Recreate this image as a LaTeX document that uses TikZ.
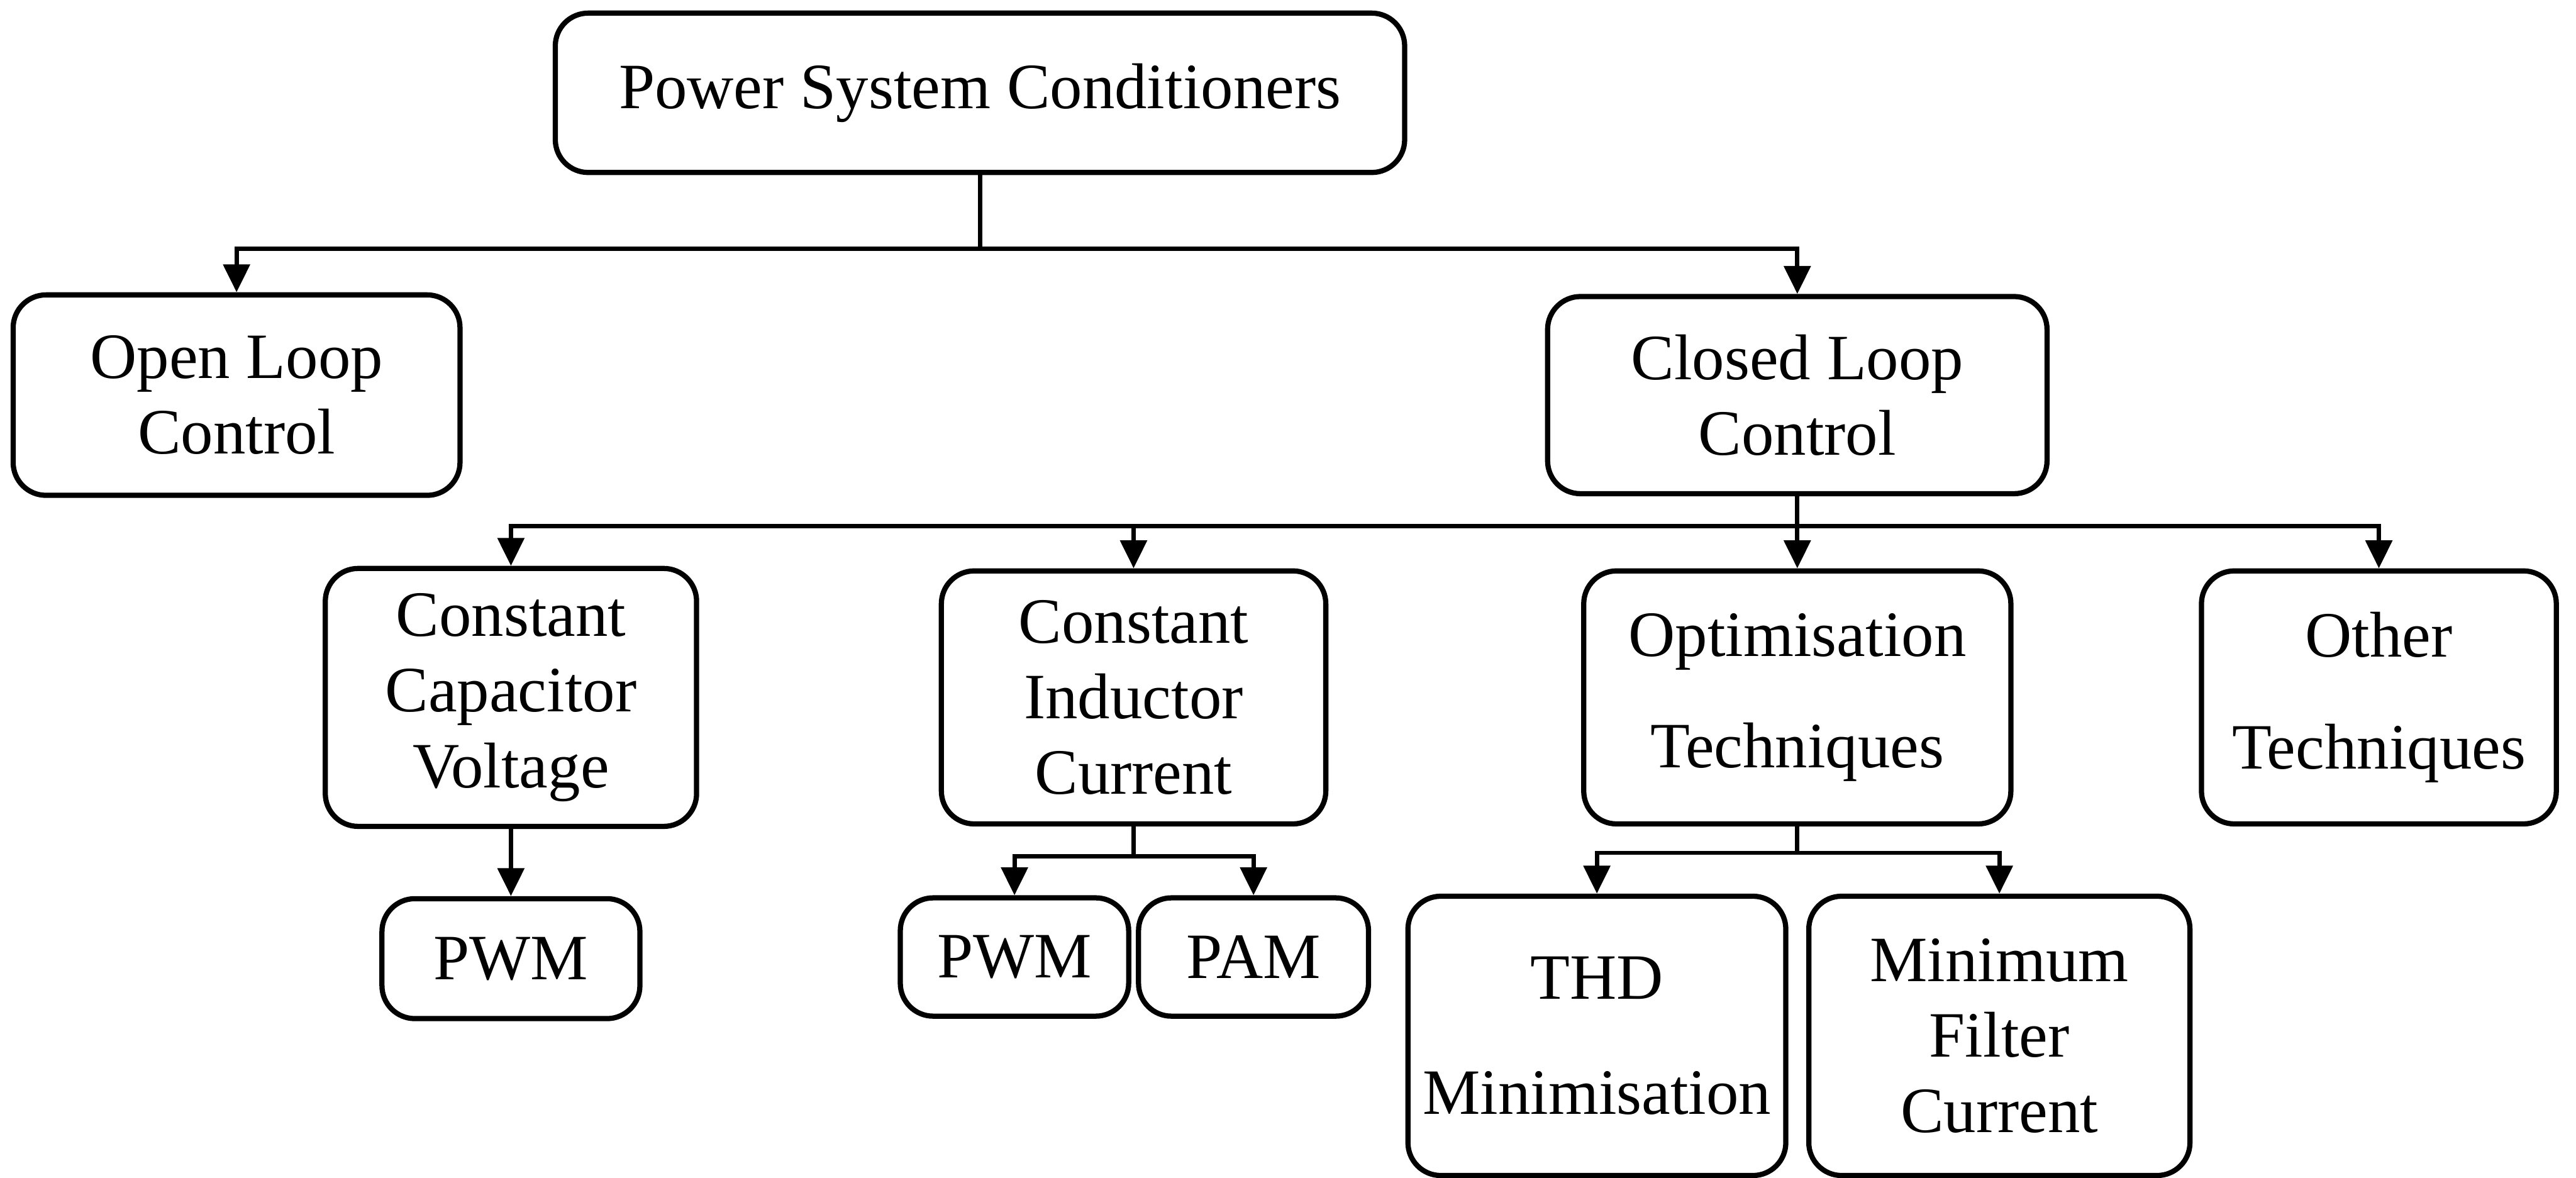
\documentclass[tikz,border=0pt]{standalone}
\usepackage{fontspec}
\setmainfont{Liberation Serif}
\usepackage{tikz}
\usetikzlibrary{arrows.meta}
\usetikzlibrary{positioning}
\tikzstyle{block} = [rectangle, rounded corners=0.2cm, draw=black, line width=0.9pt, align=center, inner sep=0pt, font=\fontsize{11.2}{13.1}\selectfont]
\tikzstyle{arrow} = [line width=0.75pt, -{Triangle[length=1.7mm, width=1.6mm]}]

\begin{document}
\begin{tikzpicture}[node distance=1.84cm]
\useasboundingbox (0,0) rectangle (15.68,-7.17);

\node (psc) [block, minimum width=5.17cm, minimum height=0.97cm] at (5.965,-0.565) {Power System Conditioners};

\node (olc) [block, minimum width=2.72cm, minimum height=1.22cm, below of=psc, xshift=-4.525cm] {Open Loop\\Control};

\node (clc) [block, minimum width=3.04cm, minimum height=1.2cm, below of=psc, xshift=4.975cm] {Closed Loop\\Control};

\node (ccv) [block, minimum width=2.26cm, minimum height=1.57cm, below of=clc, xshift=-7.83cm] {Constant\\Capacitor\\Voltage};

\node (cic) [block, minimum width=2.34cm, minimum height=1.54cm, below of=clc, xshift=-4.04cm] {Constant\\Inductor\\Current};

\node (opt) [block, minimum width=2.6cm, minimum height=1.54cm, below of=clc] {Optimisation\\[0.22cm]Techniques};

\node (oth) [block, minimum width=2.16cm, minimum height=1.54cm, below of=clc, xshift=3.54cm] {Other\\[0.22cm]Techniques};

\node (pwma) [block, minimum width=1.57cm, minimum height=0.73cm, below of=ccv, yshift=0.25cm] {PWM};

\node (pwmb) [block, minimum width=1.39cm, minimum height=0.72cm, below of=cic, xshift=-0.725cm, yshift=0.26cm] {PWM};

\node (pam) [block, minimum width=1.4cm, minimum height=0.72cm, below of=cic, xshift=0.73cm, yshift=0.26cm] {PAM};

\node (thd) [block, minimum width=2.3cm, minimum height=1.7cm, below of=opt, xshift=-1.22cm, yshift=-0.22cm] {THD\\[0.24cm]Minimisation};

\node (mfc) [block, minimum width=2.32cm, minimum height=1.7cm, below of=opt, xshift=1.23cm, yshift=-0.22cm] {Minimum\\Filter\\Current};

\draw [arrow] (psc.south) -- ++(0,-0.45) -| (olc.north);
\draw [arrow] (psc.south) -- ++(0,-0.45) -| (clc.north);
\draw [arrow] (clc.south) -- ++(0,-0.18) -| (ccv.north);
\draw [arrow] (clc.south) -- ++(0,-0.18) -| (cic.north);
\draw [arrow] (clc.south) -- (opt.north);
\draw [arrow] (clc.south) -- ++(0,-0.18) -| (oth.north);
\draw [arrow] (ccv.south) -- (pwma.north);
\draw [arrow] (cic.south) -- ++(0,-0.18) -| (pwmb.north);
\draw [arrow] (cic.south) -- ++(0,-0.18) -| (pam.north);
\draw [arrow] (opt.south) -- ++(0,-0.16) -| (thd.north);
\draw [arrow] (opt.south) -- ++(0,-0.16) -| (mfc.north);

\end{tikzpicture}
\end{document}
